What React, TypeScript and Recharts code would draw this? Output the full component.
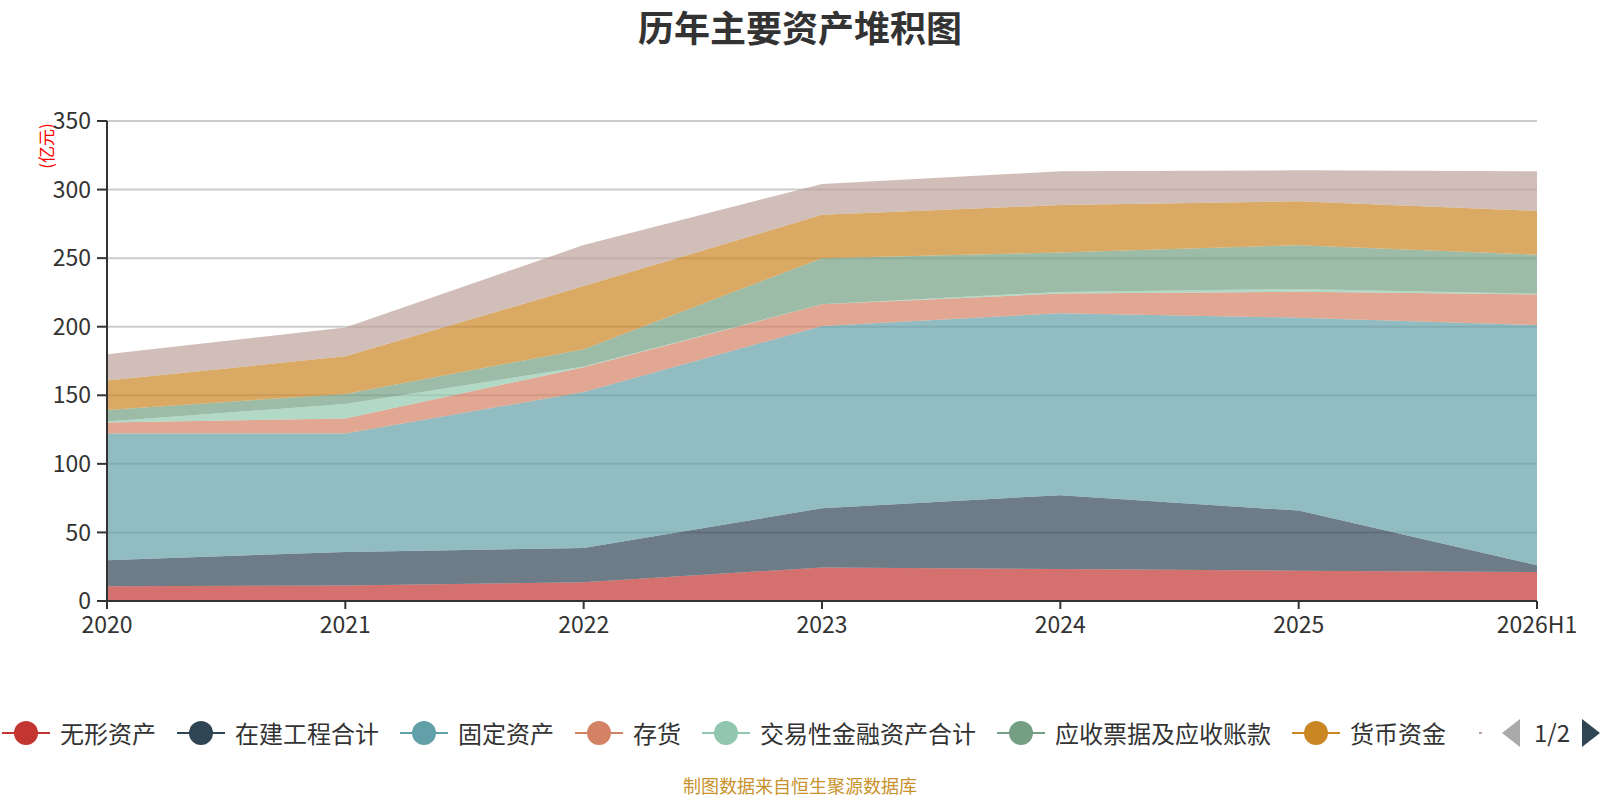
import React from "react";
import { AreaChart, Area, XAxis, YAxis, CartesianGrid } from "recharts";

const years = ["2020", "2021", "2022", "2023", "2024", "2025", "2026H1"];

// 亿元 (bottom layer first)
const intangible = [10.8, 11.3, 13.7, 24.5, 23.3, 22.1, 21.1];
const construction = [18.9, 24.5, 25.0, 43.1, 53.9, 43.8, 4.9];
const fixedAssets = [92.4, 86.3, 113.7, 132.9, 132.7, 140.7, 175.2];
const inventory = [8.0, 11.0, 18.1, 15.8, 14.3, 18.9, 22.3];
const tradingAssets = [0.8, 10.5, 0.4, 0.0, 1.2, 2.0, 0.5];
const receivables = [8.3, 7.4, 12.6, 33.7, 28.8, 31.9, 28.5];
const cash = [21.6, 27.4, 46.1, 31.6, 34.5, 32.0, 32.0];
const others = [19.2, 21.1, 29.9, 22.5, 24.6, 22.6, 28.8];

const yTicks = [0, 50, 100, 150, 200, 250, 300, 350];

const series = [
  { key: "无形资产", values: intangible, color: "#c23531" },
  { key: "在建工程合计", values: construction, color: "#2f4554" },
  { key: "固定资产", values: fixedAssets, color: "#61a0a8" },
  { key: "存货", values: inventory, color: "#d48265" },
  { key: "交易性金融资产合计", values: tradingAssets, color: "#91c7ae" },
  { key: "应收票据及应收账款", values: receivables, color: "#749f83" },
  { key: "货币资金", values: cash, color: "#ca8622" },
  { key: "其他", values: others, color: "#bda29a" },
];

const data = years.map((label, i) => {
  const row: Record<string, string | number> = { label };
  series.forEach((s) => {
    row[s.key] = s.values[i];
  });
  return row;
});

const font = '"Noto Sans CJK SC", "Noto Sans", sans-serif';
const axisTick = { fontSize: 23, fill: "#333", fontFamily: font };

function LegendIcon({ color }: { color: string }) {
  return (
    <span style={{ position: "relative", width: 48, height: 24, display: "inline-block" }}>
      <span
        style={{
          position: "absolute",
          left: 0,
          top: 11,
          width: 48,
          height: 2,
          background: color,
        }}
      />
      <span
        style={{
          position: "absolute",
          left: 12,
          top: 0,
          width: 24,
          height: 24,
          borderRadius: "50%",
          background: color,
        }}
      />
    </span>
  );
}

export default function App() {
  const visible = series.slice(0, 7);
  return (
    <div
      style={{
        position: "absolute",
        left: 0,
        top: 0,
        width: 1600,
        height: 800,
        background: "#fff",
        fontFamily: font,
        overflow: "hidden",
      }}
    >
      <div
        style={{
          position: "absolute",
          left: 0,
          top: 4,
          width: 1600,
          textAlign: "center",
          fontSize: 36,
          fontWeight: 700,
          color: "#333",
          lineHeight: "44px",
        }}
      >
        历年主要资产堆积图
      </div>

      <div
        style={{
          position: "absolute",
          left: 45,
          top: 146,
          transform: "translate(-50%, -50%) rotate(-90deg)",
          fontSize: 17,
          color: "#ff0000",
          whiteSpace: "nowrap",
          lineHeight: "17px",
        }}
      >
        (亿元)
      </div>

      <AreaChart
        width={1600}
        height={800}
        data={data}
        margin={{ top: 121, right: 63, left: 37, bottom: 169 }}
      >
        <CartesianGrid stroke="#ccc" strokeWidth={2} vertical={false} />
        <XAxis
          dataKey="label"
          height={30}
          tick={axisTick}
          tickSize={8}
          tickMargin={8}
          axisLine={{ stroke: "#333", strokeWidth: 2 }}
          tickLine={{ stroke: "#333", strokeWidth: 2 }}
          interval={0}
        />
        <YAxis
          width={70}
          domain={[0, 350]}
          ticks={yTicks}
          tick={axisTick}
          tickSize={10}
          tickMargin={6}
          axisLine={{ stroke: "#333", strokeWidth: 2 }}
          tickLine={{ stroke: "#333", strokeWidth: 2 }}
          allowDataOverflow
        />
        {series.map((s) => (
          <Area
            key={s.key}
            type="linear"
            dataKey={s.key}
            stackId="assets"
            stroke="none"
            fill={s.color}
            fillOpacity={0.7}
            dot={false}
            activeDot={false}
            isAnimationActive={false}
          />
        ))}
      </AreaChart>

      <div
        style={{
          position: "absolute",
          left: 2,
          top: 721,
          height: 24,
          display: "flex",
          alignItems: "center",
          gap: 21,
          fontSize: 24,
          color: "#333",
          whiteSpace: "nowrap",
        }}
      >
        {visible.map((s) => (
          <span key={s.key} style={{ display: "flex", alignItems: "center", gap: 10 }}>
            <LegendIcon color={s.color} />
            <span style={{ lineHeight: "24px" }}>{s.key}</span>
          </span>
        ))}
      </div>
      <span
        style={{
          position: "absolute",
          left: 1479,
          top: 732,
          width: 3,
          height: 2,
          background: "#bda29a",
        }}
      />
      <svg
        width={120}
        height={40}
        style={{ position: "absolute", left: 1490, top: 713 }}
      >
        <polygon points="30,6 12,20 30,34" fill="#aaa" />
        <text x={62} y={29} textAnchor="middle" fontSize={24} fill="#333" fontFamily={font}>
          1/2
        </text>
        <polygon points="92,6 110,20 92,34" fill="#2f4554" />
      </svg>

      <div
        style={{
          position: "absolute",
          left: 0,
          top: 775,
          width: 1600,
          textAlign: "center",
          fontSize: 18,
          color: "#c8922d",
          lineHeight: "20px",
        }}
      >
        制图数据来自恒生聚源数据库
      </div>
    </div>
  );
}
